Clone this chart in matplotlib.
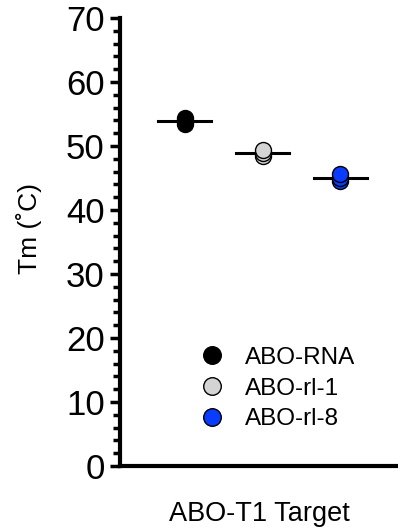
import matplotlib.pyplot as plt
from matplotlib.ticker import MultipleLocator

plt.rcParams['font.family'] = ['Liberation Sans', 'DejaVu Sans']

groups = ["ABO-RNA", "ABO-rl-1", "ABO-rl-8"]
colors = ["#000000", "#d4d4d4", "#0a3cff"]
positions = [1, 2, 3]
values = [
    [53.4, 53.9, 54.4],
    [48.4, 48.9, 49.4],
    [44.5, 45.0, 45.6],
]

fig = plt.figure(figsize=(3.98, 5.29), dpi=100)
ax = fig.add_axes([0.3015, 0.119, 0.6985, 0.847])

for name, col, x, vals in zip(groups, colors, positions, values):
    mean = sum(vals) / len(vals)
    ax.plot([x - 0.34, x + 0.34], [mean, mean], color="black", lw=2.2, zorder=2)
    ax.plot([x] * len(vals), vals, "o", ms=11.5, mfc=col, mec="black",
            mew=1.0, ls="none", zorder=3, label=name)

ax.set_xlim(0.17, 3.74)
ax.set_ylim(0, 70)
ax.yaxis.set_major_locator(MultipleLocator(10))
ax.yaxis.set_minor_locator(MultipleLocator(2))
ax.set_xticks([])
ax.tick_params(axis="y", which="major", length=7, width=2.5, labelsize=25, pad=4)
ax.tick_params(axis="y", which="minor", length=5, width=2.5)

for s in ["top", "right"]:
    ax.spines[s].set_visible(False)
for s in ["left", "bottom"]:
    ax.spines[s].set_linewidth(3)

ax.set_ylabel("Tm (˚C)", fontsize=19)
ax.yaxis.set_label_coords(-0.28, 0.53)
ax.set_xlabel("ABO-T1 Target", fontsize=19.5, labelpad=25)

ax.legend(loc="upper left", bbox_to_anchor=(0.28, 0.266), frameon=False,
          fontsize=17.5, handletextpad=0.75, labelspacing=0.36,
          handlelength=1.2, borderpad=0, borderaxespad=0, markerscale=1.1)

plt.savefig("out.png", dpi=100)
plt.close()
